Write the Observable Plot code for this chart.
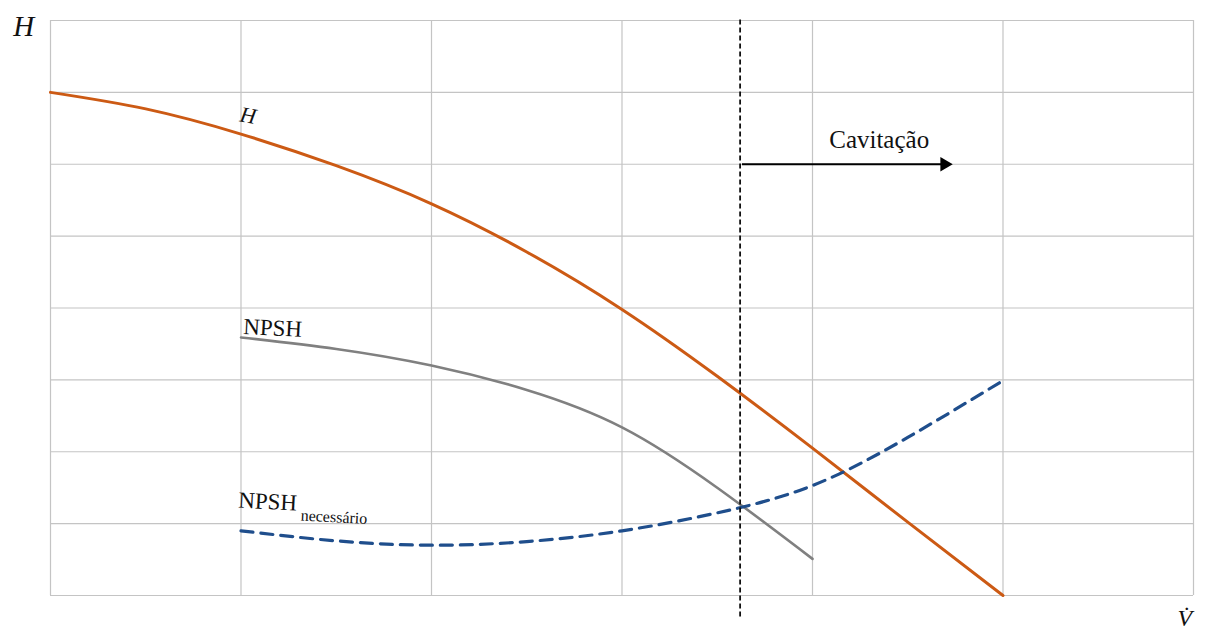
<!DOCTYPE html>
<html>
<head>
<meta charset="utf-8">
<script src="https://cdn.jsdelivr.net/npm/d3@7"></script>
<script src="https://cdn.jsdelivr.net/npm/@observablehq/plot@0.6"></script>
<style>
  html, body { margin: 0; padding: 0; background: #fff; }
  #chart svg { display: block; }
</style>
</head>
<body>
<div id="chart"></div>
<script>
// Grid ticks
const xTicks = [0, 1, 2, 3, 4, 5, 6];
const yTicks = [0, 1, 2, 3, 4, 5, 6, 7, 8];

// H curve (pump head)
const hX = [0, 0.5, 1, 1.5, 2, 2.5, 3, 3.5, 4, 4.5, 5];
const hY = [7.0, 6.77, 6.42, 5.98, 5.45, 4.78, 3.98, 3.05, 2.05, 1.02, 0];

// NPSH available
const npshX = [1, 1.5, 2, 2.5, 3, 3.5, 4];
const npshY = [3.59, 3.43, 3.2, 2.86, 2.34, 1.5, 0.51];

// NPSH required
const reqX = [1, 1.5, 2, 2.5, 3, 3.5, 4, 4.5, 5];
const reqY = [0.9, 0.76, 0.7, 0.75, 0.9, 1.15, 1.53, 2.2, 2.99];

// Cavitation limit and arrow
const cavX = [3.62];
const cavSpan = [-0.3, 8.03];
const arrowX = [3.63, 4.68];
const arrowHead = [4.693];
const arrowY = [6.0];

// Labels
const labels = [
  {x: 1.03, y: 6.58, text: "H", size: 22, style: "italic", anchor: "middle", rotate: 10},
  {x: 1.01, y: 3.64, text: "NPSH", size: 23, style: "normal", anchor: "start", rotate: 3},
  {x: 0.984, y: 1.224, text: "NPSH", size: 23, style: "normal", anchor: "start", rotate: 3},
  {x: 1.312, y: 1.043, text: "necessário", size: 16, style: "normal", anchor: "start", rotate: 3},
  {x: 4.35, y: 6.23, text: "Cavitação", size: 25, style: "normal", anchor: "middle", rotate: 0},
  {x: -0.14, y: 7.79, text: "H", size: 29, style: "italic", anchor: "middle", rotate: 0},
  {x: 5.955, y: -0.43, text: "V\u0307", size: 24, style: "italic", anchor: "middle", rotate: 0}
];

const toPts = (xs, ys) => xs.map((x, i) => ({x, y: ys[i]}));

const chart = Plot.plot({
  width: 1205,
  height: 632,
  marginLeft: 50,
  marginRight: 12,
  marginTop: 20,
  marginBottom: 37,
  style: {fontFamily: "'Liberation Serif', 'DejaVu Serif', serif", background: "#fff", overflow: "visible"},
  x: {domain: [0, 6], axis: null},
  y: {domain: [0, 8], axis: null},
  marks: [
    Plot.gridX(xTicks, {stroke: "#c4c4c4", strokeOpacity: 1, strokeWidth: 1.2}),
    Plot.gridY(yTicks, {stroke: "#c4c4c4", strokeOpacity: 1, strokeWidth: 1.2}),
    Plot.line(toPts(hX, hY), {x: "x", y: "y", curve: "natural", stroke: "#cc5a14", strokeWidth: 3}),
    Plot.line(toPts(npshX, npshY), {x: "x", y: "y", curve: "natural", stroke: "#808080", strokeWidth: 2.6}),
    Plot.line(toPts(reqX, reqY), {x: "x", y: "y", curve: "natural", stroke: "#1f4e8c", strokeWidth: 3.2, strokeDasharray: "12,8"}),
    Plot.ruleX(cavX, {x: d => d, y1: cavSpan[0], y2: cavSpan[1], stroke: "#111", strokeWidth: 1.8, strokeDasharray: "5,3"}),
    Plot.link(arrowY, {x1: arrowX[0], x2: arrowX[1], y1: d => d, y2: d => d, stroke: "#000", strokeWidth: 2}),
    Plot.dot(arrowY, {x: arrowHead[0], y: d => d, symbol: "triangle", rotate: 90, r: 5.3, fill: "#000", stroke: null}),
    ...labels.map(l => Plot.text([l], {
      x: "x", y: "y", text: "text",
      fontSize: l.size, fontStyle: l.style, textAnchor: l.anchor,
      lineAnchor: "bottom", rotate: l.rotate, fill: "#111"
    }))
  ]
});
document.getElementById("chart").appendChild(chart);
</script>
</body>
</html>
